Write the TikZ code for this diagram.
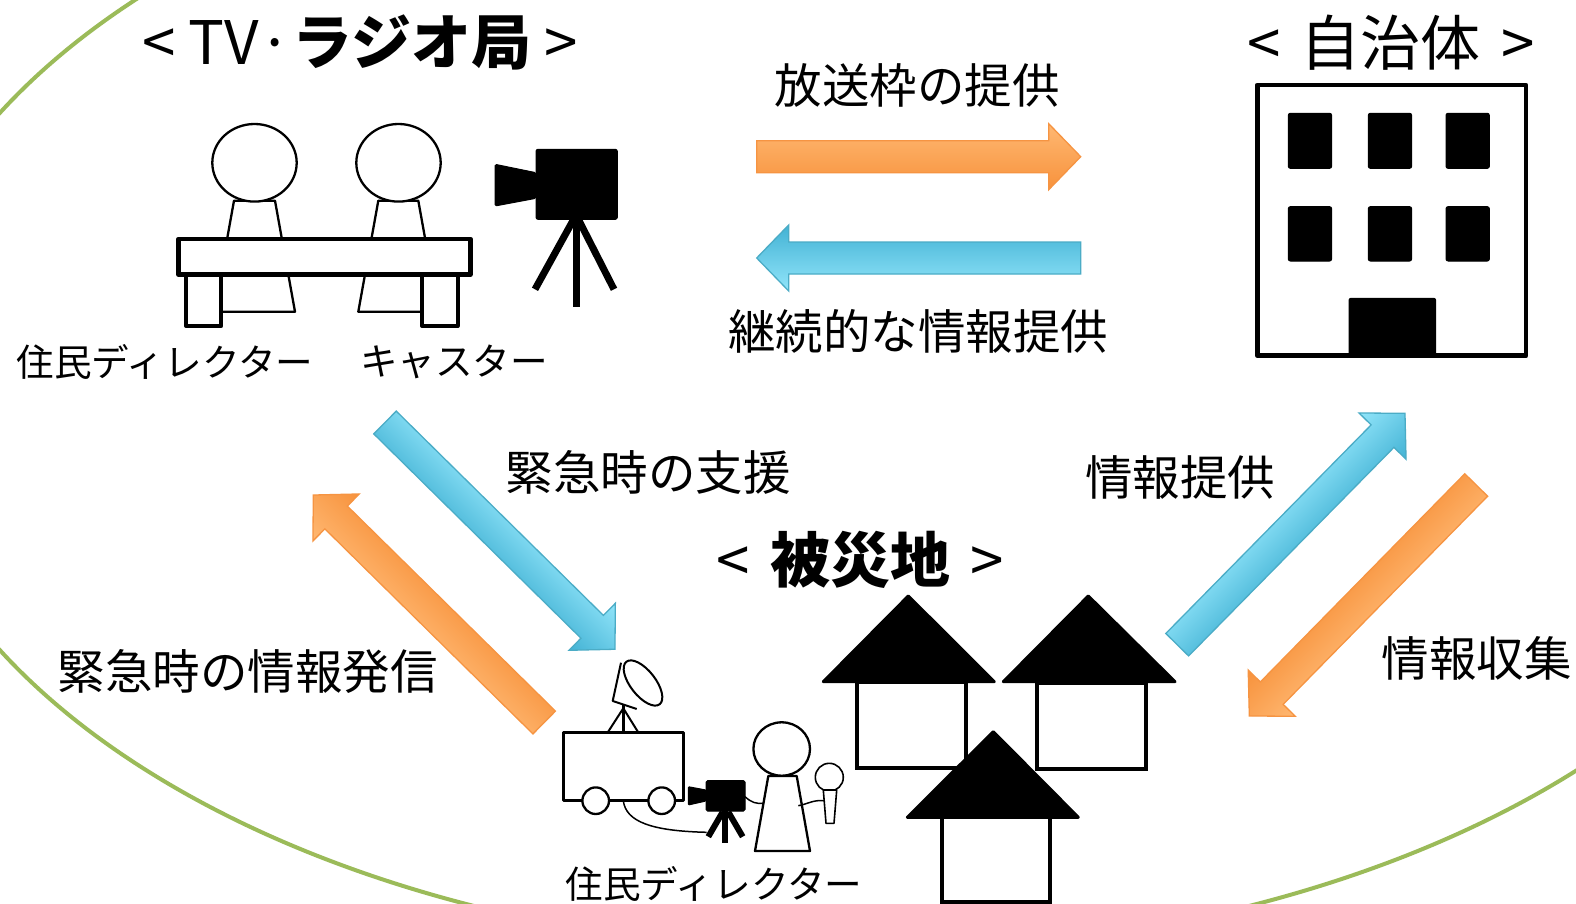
\documentclass[tikz,border=0pt]{standalone}
\usepackage{fontspec}
\newfontfamily\jp{Noto Sans CJK JP}
\usetikzlibrary{calc}

\definecolor{ringgreen}{RGB}{155,187,89}
\definecolor{orlight}{RGB}{255,184,114}
\definecolor{ordark}{RGB}{247,146,60}
\definecolor{oredge}{RGB}{246,148,66}
\definecolor{bllight}{RGB}{146,229,250}
\definecolor{bldark}{RGB}{66,178,212}
\definecolor{bledge}{RGB}{75,172,198}

% block arrow between two named coordinates (shaft 32, head 66 wide, 32 long)
\makeatletter
\newcommand\blockarrow[3]{%
  \pgfpointanchor{#2}{center}%
  \edef\ba@sx{\the\pgf@x}\edef\ba@sy{\the\pgf@y}%
  \pgfpointanchor{#3}{center}%
  \edef\ba@ex{\the\pgf@x}\edef\ba@ey{\the\pgf@y}%
  \pgfmathsetmacro\ba@ang{atan2(\ba@ey-\ba@sy,\ba@ex-\ba@sx)}%
  \pgfmathsetmacro\ba@len{veclen(\ba@ex-\ba@sx,\ba@ey-\ba@sy)}%
  \pgfmathsetmacro\ba@base{\ba@len-32}%
  \begin{scope}[transform canvas={shift={(\ba@sx,\ba@sy)},rotate=\ba@ang}]
    \shade[#1] (0pt,-16pt) -- (\ba@base pt,-16pt) -- (\ba@base pt,-33pt)
      -- (\ba@len pt,0pt) -- (\ba@base pt,33pt) -- (\ba@base pt,16pt)
      -- (0pt,16pt) -- cycle;
  \end{scope}}
\makeatother

\tikzset{
  orangearrow/.style={draw=oredge, line width=1.3pt, top color=orlight, bottom color=ordark},
  bluearrow/.style={draw=bledge, line width=1.3pt, top color=bllight, bottom color=bldark},
  lbl/.style={font=\jp\fontsize{47.5pt}{47.5pt}\selectfont, inner sep=0pt},
  smalllbl/.style={font=\jp\fontsize{37.6pt}{37.6pt}\selectfont, inner sep=0pt},
  titlelbl/.style={font=\jp\fontsize{60pt}{60pt}\selectfont, inner sep=0pt},
  figline/.style={draw=black, fill=white, line width=2.3pt, line join=round},
  thinline/.style={draw=black, fill=white, line width=1.6pt, line join=round},
  deskline/.style={draw=black, fill=white, line width=4.5pt, line join=round},
  solidblack/.style={draw=black, fill=black, line width=1pt, line join=round, rounded corners=2pt},
  tripodleg/.style={draw=black, line width=7pt},
  smallleg/.style={draw=black, line width=6pt},
  wallline/.style={draw=black, fill=white, line width=4.2pt},
  roof/.style={draw=black, fill=black, line width=3pt, line join=round},
  cable/.style={draw=black, line width=1.5pt},
}

\begin{document}
\begin{tikzpicture}[x=1pt,y=-1pt]
\useasboundingbox (0,0) rectangle (1576,904);
\fill[white] (0,0) rectangle (1576,904);

% region ring
\begin{scope}
  \clip (0,0) rectangle (1576,904);
  \draw[ringgreen, line width=4pt] (861.5,381.5) ellipse [x radius=976pt, y radius=571.3pt];
\end{scope}

% ---------- titles ----------
\node[titlelbl] (tvtitle) at (360,42) {< TV·{\bfseries ラジオ局} >};
\node[titlelbl] (govtitle) at (1391,43) {<\hspace{7pt} 自治体 \hspace{7pt}>};
\node[titlelbl] (sitetitle) at (860,560) {<\hspace{7pt} {\bfseries 被災地} \hspace{7pt}>};

% ---------- studio: caster desk ----------
\path[figline] (234,200.7) -- (275,200.7) -- (295,311.7) -- (214,311.7) -- cycle;
\path[figline] (378.3,200.7) -- (418.3,200.7) -- (438.3,311.7) -- (358.3,311.7) -- cycle;
\path[figline] (254.5,162.8) ellipse [x radius=42.2pt, y radius=38.8pt];
\path[figline] (398.5,162.8) ellipse [x radius=42.2pt, y radius=38.8pt];
\path[deskline, line width=4pt] (186,274.7) rectangle (221.3,326);
\path[deskline, line width=4pt] (422.3,274.7) rectangle (457.7,326);
\path[deskline] (178.7,239) rectangle (470.3,274.7);

% studio camera
\path[solidblack] (536,149.3) rectangle (617.3,219.3);
\path[solidblack, rounded corners=1.5pt] (495,164.3) -- (536,172.7) -- (536,198.3) -- (495,206) -- cycle;
\draw[tripodleg] (576,219) -- (576,306.7);
\draw[tripodleg] (573.3,220) -- (535,289.3);
\draw[tripodleg] (578.7,220) -- (614,289.3);

\node[smalllbl] (resdir1) at (165,362) {住民ディレクター};
\node[smalllbl] (caster) at (454,362) {キャスター};

% ---------- local government building ----------
\path[draw=black, fill=white, line width=4.7pt, line join=round] (1257.3,85) rectangle (1526,355.7);
\foreach \wx in {1288.3,1368.3,1446}{
  \path[solidblack] (\wx,113.3) rectangle ++(43.3,55);
  \path[solidblack] (\wx,206.7) rectangle ++(43.3,54.3);
}
\path[solidblack] (1349,298.3) rectangle (1435.7,355.7);

% ---------- disaster site houses ----------
\path[wallline] (856.7,681.7) rectangle (965.7,768.3);
\path[roof] (823.3,681.7) -- (908.3,596) -- (994.3,681.7) -- cycle;
\path[wallline] (1037.3,683.3) rectangle (1145.7,769.3);
\path[roof] (1003.3,681.7) -- (1088.3,596) -- (1175,681.7) -- cycle;
\path[wallline] (941.7,817.3) rectangle (1050,901.7);
\path[roof] (907.3,817.3) -- (993.3,731.7) -- (1078.3,817.3) -- cycle;

% ---------- broadcast van ----------
\draw[line width=2pt] (623.3,708.3) -- (608.3,731.5);
\draw[line width=2pt] (623.3,708.3) -- (637.7,731.5);
\draw[line width=3pt] (623.3,703) -- (623.3,737.7);
\path[thinline, line width=2pt] (621,662.7) -- (612.7,701) -- (636.7,709);
\path[thinline, line width=2pt, rotate around={-52:(643,683)}] (643,683) ellipse [x radius=27pt, y radius=12.5pt];
\path[figline, line width=2.7pt] (563.3,732.3) rectangle (683.3,800.7);
\path[figline] (595.7,800.7) circle [radius=13.3pt];
\path[figline] (661.7,800.7) circle [radius=13.3pt];

% field camera
\path[solidblack, rounded corners=1.5pt] (706,780.7) rectangle (745,811);
\path[solidblack, rounded corners=1pt] (688.3,786.7) -- (706,790) -- (706,801) -- (688.3,805) -- cycle;
\draw[smallleg] (725.3,810) -- (725.3,843.3);
\draw[smallleg] (722.7,812) -- (708.3,836.7);
\draw[smallleg] (728.3,812) -- (742.7,836.7);
\draw[cable] (623.3,800.7) .. controls (626,822) and (652,831) .. (706.7,832.3);
\draw[cable] (745,796.7) .. controls (752,803) and (756,803.5) .. (763,803.5);

% resident director with microphone
\path[figline] (768.3,776) -- (796.7,776) -- (810,851) -- (755,851) -- cycle;
\path[figline] (781.7,749) ellipse [x radius=28.3pt, y radius=26.7pt];
\draw[cable] (798.3,805.7) .. controls (808,804) and (812,800) .. (824,800.5);
\path[thinline] (829.3,777.3) circle [radius=14pt];
\path[thinline] (823.3,790) -- (836.7,790) -- (834,823.3) -- (826,823.3) -- cycle;

\node[smalllbl] (resdir2) at (714,884) {住民ディレクター};

% ---------- information flows ----------
\coordinate (slotS) at (756.7,156.7);   \coordinate (slotE) at (1080.7,156.7);
\coordinate (contS) at (1080.7,258);    \coordinate (contE) at (756.7,258);
\coordinate (helpS) at (385,422.5);     \coordinate (helpE) at (615,649.3);
\coordinate (sendS) at (544.2,722.5);   \coordinate (sendE) at (313.3,495);
\coordinate (giveS) at (1177.2,644.7);  \coordinate (giveE) at (1405,413.3);
\coordinate (collS) at (1476.2,485);    \coordinate (collE) at (1249.3,716);

\blockarrow{orangearrow}{slotS}{slotE}
\blockarrow{bluearrow}{contS}{contE}
\blockarrow{bluearrow}{helpS}{helpE}
\blockarrow{orangearrow}{sendS}{sendE}
\blockarrow{bluearrow}{giveS}{giveE}
\blockarrow{orangearrow}{collS}{collE}

\node[lbl] (slotlbl) at (917,85.4) {放送枠の提供};
\node[lbl] (contlbl) at (918,331.7) {継続的な情報提供};
\node[lbl] (helplbl) at (648,472.4) {緊急時の支援};
\node[lbl] (sendlbl) at (247.5,671) {緊急時の情報発信};
\node[lbl] (givelbl) at (1180,477.4) {情報提供};
\node[lbl] (colllbl) at (1476.5,658) {情報収集};
\end{tikzpicture}
\end{document}
